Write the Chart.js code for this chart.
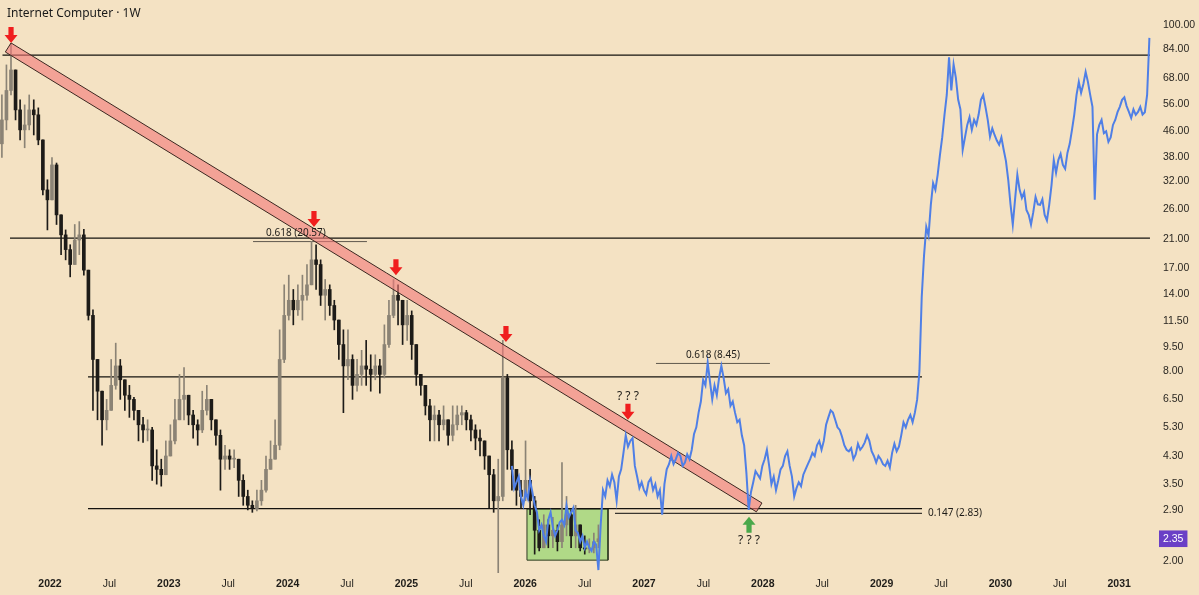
<!DOCTYPE html>
<html>
<head>
<meta charset="utf-8">
<title>Internet Computer 1W</title>
<script src="https://cdn.jsdelivr.net/npm/chart.js@4.4.1/dist/chart.umd.min.js"></script>
<style>
  html, body { margin: 0; padding: 0; background: #f4e2c3; }
  #wrap { width: 1199px; height: 595px; }
</style>
</head>
<body>
<div id="wrap"><canvas id="myChart" width="1199" height="595"></canvas></div>
<script>
  // chart data (x in decimal years, y in USD)
  const chartTitle = 'Internet Computer · 1W';
  const candleStart = 2021.595;        // first candle, early Aug 2021
  const stepYears = 14 / 365.25;       // one candle every 2 weeks
  const firstOpen = 42;

  const closes = [50, 62, 72, 53.8, 46.5, 48.2, 53.8, 51.9, 43.2, 30,
    27.9, 36, 25, 21.6, 19.4, 17.4, 20.8, 21.6, 16.7, 12,
    8.7, 6.9, 5.6, 6.0, 7.2, 8.3, 7.5, 6.7, 6.5, 6.0,
    5.4, 5.2, 5.2, 4.0, 3.9, 3.75, 4.3, 4.8, 5.6, 6.5,
    6.7, 5.8, 5.4, 5.2, 6.0, 6.5, 5.6, 5.0, 4.2, 4.3,
    4.2, 4.2, 3.6, 3.2, 3.0, 2.93, 3.1, 3.35, 3.9, 4.2,
    4.65, 8.7, 12.0, 13.4, 12.5, 13.4, 13.9, 15.0, 18.0, 17.4,
    13.9, 14.5, 12.9, 11.6, 9.7, 8.3, 8.7, 7.2, 7.8, 8.3,
    8.1, 7.8, 8.3, 7.8, 9.7, 12.0, 13.9, 13.4, 11.2, 12.0,
    9.7, 7.8, 7.2, 6.2, 5.6, 5.8, 5.4, 5.6, 5.0, 5.4,
    5.8, 5.9, 5.6, 5.2, 4.9, 4.8, 4.3, 3.75, 3.1, 3.2,
    7.6, 4.5, 3.9, 3.35, 3.2, 3.6, 3.1, 2.5, 2.2, 2.6,
    2.4, 2.5, 2.3, 2.6, 2.8, 2.4, 2.6, 2.2, 2.18, 2.2,
    2.3, 2.35];
  const highs = [60, 74.7, 87.5, 72, 57.9, 55.8, 60, 57.9, 54.6, 43.2,
    32.3, 38, 36.5, 25, 22.4, 20.1, 23.3, 23.8, 22.5, 16.7,
    12.5, 8.7, 6.9, 6.5, 8.7, 9.8, 8.7, 7.5, 7.2, 6.6,
    6.0, 5.7, 5.6, 5.3, 4.5, 4.2, 4.8, 5.4, 6.5, 7.8,
    8.2, 6.7, 6.0, 5.6, 6.9, 7.2, 6.5, 5.6, 5.2, 4.65,
    4.5, 4.5, 4.2, 3.75, 3.35, 3.1, 3.35, 3.6, 4.3, 4.8,
    5.6, 10.8, 15.0, 16.1, 14.5, 15.0, 16.1, 17.4, 20.6, 20.1,
    18.0, 15.6, 15.0, 13.4, 11.6, 10.8, 10.8, 9.0, 8.7, 9.3,
    10.0, 9.0, 9.0, 8.7, 11.2, 13.4, 15.6, 15.0, 13.4, 13.4,
    12.4, 9.7, 7.8, 7.2, 6.5, 6.2, 6.0, 6.2, 5.6, 6.2,
    6.2, 6.2, 6.0, 5.8, 5.4, 5.2, 4.8, 4.3, 3.9, 4.2,
    10.0, 7.8, 4.8, 3.9, 3.6, 4.8, 3.9, 3.2, 2.7, 2.8,
    2.7, 2.75, 2.6, 4.1, 3.2, 2.9, 3.0, 2.6, 2.4, 2.35,
    2.45, 2.6];
  const lows = [38, 46.5, 60, 50, 43.2, 40.8, 46.5, 44.8, 41.7, 28.9,
    22.4, 27.9, 23.3, 18.7, 18, 15.9, 17.4, 18.7, 16.1, 11.6,
    6.0, 5.6, 4.65, 5.2, 6.0, 7.0, 6.5, 6.0, 5.7, 5.6,
    4.8, 4.75, 4.8, 3.6, 3.5, 3.45, 3.75, 4.3, 4.7, 5.6,
    5.6, 5.4, 4.9, 4.65, 5.1, 5.8, 5.2, 4.65, 3.35, 3.9,
    3.9, 3.95, 3.2, 3.0, 2.9, 2.85, 2.88, 3.0, 3.3, 3.9,
    4.2, 4.5, 8.5, 11.6, 11.2, 12.0, 11.6, 13.4, 15.0, 14.5,
    12.9, 11.6, 12.0, 10.8, 8.7, 5.9, 7.5, 6.5, 6.9, 7.2,
    7.2, 6.9, 7.5, 6.8, 7.6, 9.5, 11.8, 11.2, 9.7, 10.0,
    8.7, 7.2, 6.7, 5.8, 4.8, 4.8, 4.8, 5.2, 4.65, 4.8,
    5.2, 5.4, 5.2, 4.8, 4.5, 4.3, 3.9, 2.95, 2.85, 1.8,
    3.1, 3.9, 3.35, 3.0, 2.95, 3.1, 2.8, 2.1, 2.15, 2.2,
    2.2, 2.2, 2.15, 2.2, 2.4, 2.2, 2.2, 2.15, 2.1, 2.12,
    2.12, 2.2];

  // projected path (blue), weekly, starting late Nov 2025
  const projStart = 2025.888;
  const projStep = 7 / 365.25;
  const projection = [
    4.0, 3.4, 3.55, 3.7, 3.2, 3.0, 3.3, 3.15, 3.6, 3.3,
    3.0, 2.85, 2.5, 2.6, 2.4, 2.3, 2.7, 2.85, 2.55, 2.4,
    2.5, 2.65, 2.7, 2.6, 3.0, 2.75, 2.85, 2.95, 2.5, 2.45,
    2.3, 2.4, 2.2, 2.3, 2.2, 2.15, 2.3, 2.25, 1.87, 2.6,
    3.35, 3.2, 3.6, 3.45, 3.75, 3.55, 3.1, 3.7, 3.9, 4.4,
    5.0, 4.6, 4.8, 4.9, 4.0, 3.7, 3.4, 3.55, 3.35, 3.25,
    3.55, 3.65, 3.35, 3.5, 3.2, 3.35, 2.8, 3.5, 3.9, 4.05,
    4.3, 4.05, 4.2, 4.4, 4.3, 4.0, 4.1, 4.35, 4.2, 4.5,
    5.05, 5.3, 5.9, 6.4, 7.5, 7.2, 8.5, 7.4, 6.5, 7.2,
    6.7, 7.6, 8.3, 7.6, 6.8, 7.0, 6.2, 6.4, 5.9, 5.5,
    5.6, 5.0, 4.65, 3.8, 2.9, 3.3, 3.55, 3.85, 3.75, 3.65,
    4.0, 4.2, 4.5, 4.0, 3.5, 3.7, 3.35, 3.6, 3.9, 4.0,
    4.3, 4.45, 4.0, 3.7, 3.2, 3.4, 3.55, 3.45, 3.75, 3.9,
    4.05, 4.2, 4.4, 4.3, 4.65, 4.8, 4.5, 4.8, 5.4, 5.7,
    6.0, 5.9, 5.6, 5.3, 5.2, 4.95, 4.65, 4.5, 4.45, 4.55,
    4.2, 4.35, 4.7, 4.5, 4.6, 4.75, 5.0, 4.8, 4.45, 4.3,
    4.1, 4.3, 4.2, 4.05, 4.0, 4.15, 3.95, 4.4, 4.7, 4.45,
    4.6, 5.0, 5.5, 5.3, 5.6, 5.8, 5.5, 5.9, 6.5, 8.0,
    13.7, 18.5, 22.9, 21.5, 26.9, 31.5, 30, 33.5, 38.7, 44,
    51.9, 60, 79, 62, 75, 68, 58, 54, 40.2, 44,
    48.2, 51, 46.5, 50, 48.2, 52, 57.9, 60, 55, 50,
    44.2, 47, 44.8, 43, 41.7, 44, 40.2, 37, 32.3, 27,
    23.3, 28, 33.5, 30, 28.3, 29.5, 25.9, 25, 23.3, 25.5,
    28.5, 27, 26.9, 28, 25, 24, 26.9, 31, 37.3, 34,
    37.3, 39, 36, 35, 39.3, 42, 46.5, 52, 60, 66,
    60.9, 65, 71, 66, 60, 55, 27.9, 45, 48.2, 50,
    45.4, 46, 42.6, 44, 48.2, 50, 52.9, 55, 57.9, 59,
    55.3, 53, 50.7, 54, 51.9, 53, 55, 52, 52.9, 60,
    91];

  // horizontal levels
  const levelValues = [80.3, 21.1, 7.66, 2.93, 2.83, 20.57, 8.45];
  const levelFrom = [2021.60, 2021.663, 2022.32, 2022.32, 2026.756, 2023.709, 2027.101];
  const levelTo = [2031.259, 2031.259, 2029.34, 2029.34, 2029.34, 2024.668, 2028.06];

  // falling channel (polygon corners) and accumulation box
  const bandX = [2021.672, 2027.993, 2027.946, 2021.624, 2021.672];
  const bandY = [87.7, 3.05, 2.86, 82.1, 87.7];
  const boxX = [2026.015, 2026.697, 2026.697, 2026.015, 2026.015];
  const boxY = [2.92, 2.92, 2.01, 2.01, 2.92];

  // arrows (tip position)
  const downArrowX = [2021.672, 2024.222, 2024.912, 2025.838, 2026.865];
  const downArrowY = [87.7, 22.9, 16.1, 9.89, 5.60];
  const upArrowX = [2027.884];
  const upArrowY = [2.76];

  // text notes
  const fibText = ['0.618 (20.57)', '0.618 (8.45)', '0.147 (2.83)'];
  const fibX = [2024.07, 2027.58, 2029.39];
  const fibY = [20.57, 8.45, 2.83];

  const yTicks = [2, 2.35, 2.9, 3.5, 4.3, 5.3, 6.5, 8, 9.5, 11.5, 14, 17, 21, 26, 32, 38, 46, 56, 68, 84, 100];
  const lastPrice = 2.35;
  const tickYears = [2022, 2023, 2024, 2025, 2026, 2027, 2028, 2029, 2030, 2031];

  const xMin = 2021.5791, xMax = 2031.2677;
  const FONT = '"Noto Sans", "DejaVu Sans", sans-serif';
  const AXIS_FONT = '"Liberation Sans", Arial, sans-serif';

  // build the datasets
  const candleX = closes.map((c, i) => candleStart + i * stepYears);
  const opens = closes.map((c, i) => i === 0 ? firstOpen : closes[i - 1]);
  const candleColor = closes.map((c, i) => c >= opens[i] ? '#8b8375' : '#1d1b18');

  const xTicks = [];
  tickYears.forEach(yr => {
    xTicks.push(yr);
    if (yr + 0.5 < xMax) xTicks.push(yr + 0.5);
  });

  const datasets = [];
  datasets.push({
    type: 'bar', label: 'wicks', order: 8, grouped: false, barThickness: 1,
    data: candleX.map((x, i) => ({ x: x, y: [lows[i], highs[i]] })),
    backgroundColor: candleColor
  });
  datasets.push({
    type: 'bar', label: 'bodies', order: 7, grouped: false, barThickness: 3, minBarLength: 1,
    data: candleX.map((x, i) => ({ x: x, y: [opens[i], closes[i]] })),
    backgroundColor: candleColor
  });
  datasets.push({
    type: 'line', label: 'box', order: 10, fill: 'shape',
    data: boxX.map((x, i) => ({ x: x, y: boxY[i] })),
    backgroundColor: 'rgba(150, 214, 112, 0.72)', borderColor: '#2f3a22', borderWidth: 1,
    pointRadius: 0, tension: 0
  });
  levelValues.forEach((v, i) => {
    datasets.push({
      type: 'line', label: 'level' + i, order: 9,
      data: [{ x: levelFrom[i], y: v }, { x: levelTo[i], y: v }],
      borderColor: i >= 4 ? '#3a3630' : '#15130f', borderWidth: i >= 5 ? 0.8 : 1.2,
      pointRadius: 0, fill: false
    });
  });
  datasets.push({
    type: 'line', label: 'band', order: 5, fill: 'shape',
    data: bandX.map((x, i) => ({ x: x, y: bandY[i] })),
    backgroundColor: 'rgba(242, 120, 120, 0.6)', borderColor: '#3b2720', borderWidth: 1,
    pointRadius: 0, tension: 0
  });
  datasets.push({
    type: 'line', label: 'projection', order: 4,
    data: projection.map((v, i) => ({ x: projStart + i * projStep, y: v })),
    borderColor: '#4f7fe6', borderWidth: 2, pointRadius: 0, tension: 0, fill: false
  });

  const notes = {
    id: 'notes',
    afterDatasetsDraw(chart) {
      const { ctx, scales: { x, y } } = chart;
      ctx.save();
      // arrows
      function arrow(px, py, dir, color) {
        // dir = 1 points down (tip at bottom), -1 points up
        ctx.beginPath();
        ctx.moveTo(px, py);
        ctx.lineTo(px + 6.5, py - 8 * dir);
        ctx.lineTo(px + 2.6, py - 8 * dir);
        ctx.lineTo(px + 2.6, py - 16 * dir);
        ctx.lineTo(px - 2.6, py - 16 * dir);
        ctx.lineTo(px - 2.6, py - 8 * dir);
        ctx.lineTo(px - 6.5, py - 8 * dir);
        ctx.closePath();
        ctx.fillStyle = color;
        ctx.fill();
      }
      downArrowX.forEach((v, i) => arrow(x.getPixelForValue(v), y.getPixelForValue(downArrowY[i]), 1, '#f01e1e'));
      upArrowX.forEach((v, i) => arrow(x.getPixelForValue(v), y.getPixelForValue(upArrowY[i]), -1, '#4aa84a'));

      // fib labels
      ctx.fillStyle = '#1e1c18';
      ctx.font = '10px ' + FONT;
      ctx.textBaseline = 'bottom';
      ctx.textAlign = 'center';
      ctx.fillText(fibText[0], x.getPixelForValue(fibX[0]), y.getPixelForValue(fibY[0]) - 3);
      ctx.fillText(fibText[1], x.getPixelForValue(fibX[1]), y.getPixelForValue(fibY[1]) - 3);
      ctx.textAlign = 'left';
      ctx.textBaseline = 'middle';
      ctx.fillText(fibText[2], x.getPixelForValue(fibX[2]), y.getPixelForValue(fibY[2]));

      // question marks
      ctx.font = '12px ' + FONT;
      ctx.textAlign = 'center';
      ctx.textBaseline = 'bottom';
      ctx.fillText('? ? ?', x.getPixelForValue(downArrowX[4]), y.getPixelForValue(downArrowY[4]) - 17);
      ctx.textBaseline = 'top';
      ctx.fillText('? ? ?', x.getPixelForValue(upArrowX[0]), y.getPixelForValue(upArrowY[0]) + 18);

      // title
      ctx.font = '12px ' + FONT;
      ctx.textAlign = 'left';
      ctx.textBaseline = 'alphabetic';
      ctx.fillStyle = '#1a1a1a';
      ctx.fillText(chartTitle, 7, 17);
      ctx.restore();
    }
  };

  const ctx = document.getElementById('myChart');
  new Chart(ctx, {
    type: 'line',
    data: { datasets: datasets },
    options: {
      responsive: false,
      animation: false,
      devicePixelRatio: 1,
      layout: { padding: 0 },
      plugins: { legend: { display: false }, tooltip: { enabled: false } },
      scales: {
        x: {
          type: 'linear', min: xMin, max: xMax, offset: false,
          grid: { display: false, drawTicks: false }, border: { display: false },
          afterBuildTicks: s => { s.ticks = xTicks.map(v => ({ value: v })); },
          afterFit: s => { s.height = 22; s.paddingLeft = 0; s.paddingRight = 0; },
          ticks: {
            autoSkip: false, maxRotation: 0, padding: 5, color: '#1f1d19',
            font: c => ({ family: AXIS_FONT, size: 10.5, weight: (c.tick && Number.isInteger(c.tick.value)) ? 'bold' : 'normal' }),
            callback: v => Number.isInteger(v) ? String(v) : 'Jul'
          }
        },
        y: {
          type: 'logarithmic', position: 'right', min: 1.83, max: 120,
          grid: { display: false, drawTicks: false }, border: { display: false },
          afterBuildTicks: s => { s.ticks = yTicks.map(v => ({ value: v })); },
          afterFit: s => { s.width = 48; s.paddingTop = 0; s.paddingBottom = 0; },
          ticks: {
            autoSkip: false, padding: 12,
            font: { family: AXIS_FONT, size: 10.5 },
            color: c => (c.tick && c.tick.value === lastPrice) ? '#ffffff' : '#2a2722',
            showLabelBackdrop: true,
            backdropColor: c => (c.tick && c.tick.value === lastPrice) ? '#6a3fc6' : 'rgba(0,0,0,0)',
            backdropPadding: { x: 4, y: 2 },
            callback: v => Number(v).toFixed(2)
          }
        }
      }
    },
    plugins: [notes]
  });
</script>
</body>
</html>
